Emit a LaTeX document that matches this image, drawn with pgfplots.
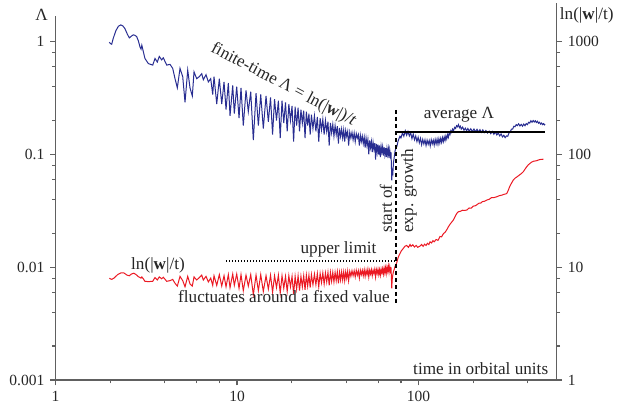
\documentclass[border=0pt]{standalone}
\usepackage{fontspec}
\setmainfont{Liberation Serif}
\usepackage{pgfplots}
\pgfplotsset{compat=1.18}
\definecolor{lblue}{RGB}{40,45,145}
\definecolor{lred}{RGB}{235,25,35}
\definecolor{axgray}{RGB}{96,96,96}
\begin{document}
\begin{tikzpicture}
\useasboundingbox (-33.3pt,-17.4pt) rectangle (346.5pt,228pt);
% right axis: ln(|w|/t)
\begin{axis}[scale only axis, width=300.72pt, height=226.0pt,
  xmode=log, ymode=log, xmin=1, xmax=577, ymin=1, ymax=2185,
  axis y line*=right, axis x line*=bottom, hide x axis,
  axis line style={axgray, line width=0.8pt, -},
  tick style={axgray, line width=0.7pt},
  major tick length=3.2pt, minor tick length=2pt,
  tick align=outside,
  tick label style={font=\fontsize{9.3}{10}\selectfont, text=black!85},
  clip=false,
  ytick={1,10,100,1000}, yticklabels={1,10,100,1000},
  minor ytick={2,4,6,8,20,40,60,80,200,400,600,800},
]
\addplot[lred, line width=0.6pt] coordinates {
(1.98,7.97) (2.04,7.8) (2.1,8.0) (2.2,8.6) (2.29,8.9) (2.38,8.9) (2.48,8.5) (2.55,8.4) (2.62,8.7) (2.70,8.85) (2.78,8.6) (2.86,8.25) (2.92,8.1) (2.96,8.0) (2.99,8.2) (3.045,7.9) (3.11,7.5) (3.246,7.45) (3.432,7.5) (3.534,8.1) (3.638,7.7) (3.731,8.2) (3.846,7.9) (3.925,8.15) (4.10,7.5) (4.275,7.6) (4.423,7.8) (4.555,7.2) (4.690,6.8) (4.853,8.3) (5.022,7.6) (5.171,6.7) (5.351,8.3) (5.508,7.1) (5.672,6.8) (5.796,8.2) (5.998,7.7) (6.200,8.1) (6.392,8.5) (6.523,7.7) (6.750,8.3) (6.950,7.4) (7.164,8.0) (7.348,6.9) (7.471,8.4) (7.732,6.9) (7.991,8.6) (8.238,6.8) (8.482,8.4) (8.700,6.7) (8.958,8.6) (9.152,6.6) (9.470,8.7) (9.663,6.9) (9.961,8.7) (10.26,6.5) (10.52,8.6) (10.83,6.2) (11.21,8.5) (11.54,6.8) (11.90,8.6) (12.30,5.7) (12.73,8.5) (13.11,6.2) (13.51,8.6) (13.96,6.1) (14.45,8.4) (14.88,6.4)
(15.3,8.5) (15.7,6.0) (16.1,8.4) (16.5,6.6) (16.9,8.5) (17.3,5.9) (17.7,8.4) (18.1,6.5) (18.5,8.3) (18.9,6.1) (19.3,8.4) (19.7,6.7) (20.1,8.3) (20.5,5.8) (20.9,8.3) (21.3,6.4) (21.7,8.4) (22.1,6.2) (22.5,8.3) (22.9,6.7) (23.3,8.4) (23.7,6.3) (24.1,8.5) (24.5,6.8) (24.9,8.5) (25.3,6.6) (25.7,8.6) (26.2,7.0) (26.7,8.7) (27.2,7.0) (27.7,8.8) (28.2,6.7) (28.7,8.8) (29.2,7.3) (29.7,8.9) (30.2,7.1) (30.7,8.9) (31.2,7.4) (31.7,9.0) (32.2,6.9) (32.7,9.0) (33.2,7.5) (33.7,9.0) (34.2,7.4) (34.7,9.0) (35.2,7.6) (35.7,9.1) (36.2,7.2) (36.7,9.0) (37.2,7.7) (37.7,9.1) (38.2,7.7) (38.7,9.1) (39.2,7.6) (39.7,9.1) (40.2,8.0) (40.7,9.2) (41.2,7.6)
(41.8,9.2) (42.4,8.3) (43,9.3) (43.6,8.4) (44.2,9.3) (44.8,8.2) (45.4,9.4) (46,8.5) (46.6,9.3) (47.2,8.0) (47.8,9.4) (48.4,8.6) (49,9.4) (49.6,8.4) (50.2,9.5) (50.8,8.3) (51.4,9.4) (52,8.6) (52.6,9.6) (53.2,8.2) (53.8,9.4) (54.4,8.7) (55,9.5) (55.6,8.4) (56.2,9.4) (56.8,8.8) (57.4,9.6) (58,8.2) (58.6,9.5) (59.2,8.8) (59.8,9.6) (60.4,8.6) (61,9.5) (61.6,8.5) (62.2,9.6) (62.8,8.9) (63.4,9.7) (64,8.7) (64.6,9.8) (65.2,8.9) (65.8,9.9) (66.4,8.8) (67,10.0) (67.6,9.2) (68.2,10.2) (68.8,9.0) (69.4,10.1) (70,9.3) (70.5,10.0) (70.9,8.0) (71.2,6.5) (71.6,7.8) (72.2,8.6) (72.8,9.2) (73.5,9.6) (74.3,10.2) (75.8,10.9)
(77,12.0) (78,12.7) (79.2,13.3) (80.5,14.0) (82.5,14.7) (84,15.3) (86,15.6) (88,15.0) (89.8,15.9) (91,15.3) (93,15.8) (95,15.1) (97,15.6) (99,15.0) (101.9,15.4) (104,15.9) (106,15.3) (108,16.0) (110,15.6) (112,16.3) (114,15.9) (115.7,16.8) (118,16.4) (120,17.2) (122,16.8) (125,17.6) (128,17.3) (131.3,18.7) (134,18.6) (137,19.8) (140,20.4) (142.9,21.4) (146,22.8) (149,24.0) (152,25.0) (155.5,26.2) (158,27.6) (160.5,29.0) (163,30.2) (165.6,31.0) (170,31.3) (175,32.0) (180,31.9) (184.4,32.1) (190,33.5) (195,33.4) (200,34.8) (205,35.0) (209.3,35.7) (215,36.9) (220,37.0) (225,38.2) (230,38.3) (237.6,39.4) (245,40.0) (252,41.3) (260,41.4) (269.7,42.1) (278,43.0) (287,43.5) (295,44.2) (300,44.5) (306.2,45.0) (312,48.0) (318,52.0) (325,55.5) (332.8,59.3) (340,61.5) (350,63.5) (360,65.8) (368,67.5) (377.7,70.2) (385,73.5) (395,78.0) (403,81.0) (411.4,83.3) (420,85.5) (430,87.0) (440,87.5) (447.9,88.0) (460,89.5) (470,90.2) (480,90.3) (487.5,91.0)
};
\addplot[black, line width=0.8pt, dash pattern=on 0.8pt off 1.0pt] coordinates {(8.7,11.35) (75.3,11.35)};
\end{axis}
% left axis: Lambda
\begin{axis}[scale only axis, width=300.72pt, height=218.4pt,
  xmode=log, ymode=log, xmin=1, xmax=577, ymin=0.001, ymax=1.69,
  axis x line*=bottom, axis y line*=left,
  axis line style={axgray, line width=0.8pt, -},
  tick style={axgray, line width=0.7pt},
  major tick length=3.2pt, minor tick length=2pt,
  tick align=outside,
  tick label style={font=\fontsize{9.3}{10}\selectfont, text=black!85},
  clip=false,
  xtick={1,10,100}, xticklabels={1,10,100},
  minor xtick={2,4,6,8,20,40,60,80,200,400},
  ytick={0.001,0.01,0.1,1}, yticklabels={0.001,0.01,0.1,1},
  minor ytick={0.002,0.004,0.006,0.008,0.02,0.04,0.06,0.08,0.2,0.4,0.6,0.8},
]
\addplot[lblue, line width=0.6pt] coordinates {
(1.98,0.99) (2.01,0.96) (2.04,0.95) (2.08,1.07) (2.15,1.25) (2.22,1.37) (2.29,1.41) (2.35,1.38) (2.41,1.31) (2.48,1.18) (2.55,1.08) (2.62,1.12) (2.68,1.15) (2.74,1.14) (2.80,1.11) (2.86,1.02) (2.92,0.90) (2.96,0.86) (2.99,0.93) (3.045,0.82) (3.11,0.71) (3.246,0.64) (3.432,0.62) (3.534,0.71) (3.638,0.66) (3.731,0.74) (3.846,0.69) (3.925,0.72) (4.10,0.62) (4.275,0.63) (4.423,0.58) (4.555,0.47) (4.690,0.39) (4.853,0.58) (5.022,0.49) (5.171,0.29) (5.351,0.56) (5.508,0.39) (5.672,0.33) (5.796,0.54) (5.998,0.47) (6.200,0.49) (6.392,0.52) (6.523,0.46) (6.750,0.51) (6.950,0.44) (7.164,0.47) (7.348,0.34) (7.471,0.49) (7.732,0.28) (7.991,0.47) (8.238,0.28) (8.482,0.44) (8.700,0.25) (8.958,0.43) (9.152,0.22) (9.470,0.41) (9.663,0.23) (9.961,0.40) (10.26,0.21) (10.52,0.39) (10.83,0.18) (11.21,0.37) (11.54,0.24) (11.90,0.36) (12.30,0.134) (12.73,0.35) (13.11,0.18) (13.51,0.34) (13.96,0.17) (14.45,0.33) (14.88,0.195)
(15.3,0.32) (15.7,0.15) (16.1,0.31) (16.5,0.2) (16.9,0.30) (17.3,0.14) (17.7,0.30) (18.1,0.19) (18.5,0.29) (18.9,0.16) (19.3,0.28) (19.7,0.2) (20.1,0.27) (20.5,0.13) (20.9,0.265) (21.3,0.18) (21.7,0.26) (22.1,0.16) (22.5,0.25) (22.9,0.19) (23.3,0.245) (23.7,0.14) (24.1,0.24) (24.5,0.18) (24.9,0.23) (25.3,0.15) (25.7,0.225) (26.2,0.17) (26.7,0.22) (27.2,0.16) (27.7,0.215) (28.2,0.13) (28.7,0.21) (29.2,0.165) (29.7,0.205) (30.2,0.15) (30.7,0.2) (31.2,0.16) (31.7,0.195) (32.2,0.12) (32.7,0.19) (33.2,0.155) (33.7,0.185) (34.2,0.145) (34.7,0.18) (35.2,0.15) (35.7,0.178) (36.2,0.125) (36.7,0.172) (37.2,0.145) (37.7,0.168) (38.2,0.14) (38.7,0.165) (39.2,0.13) (39.7,0.163) (40.2,0.145) (40.7,0.16) (41.2,0.12)
(41.8,0.158) (42.4,0.14) (43,0.157) (43.6,0.135) (44.2,0.155) (44.8,0.13) (45.4,0.153) (46,0.14) (46.6,0.15) (47.2,0.12) (47.8,0.148) (48.4,0.13) (49,0.145) (49.6,0.125) (50.2,0.142) (50.8,0.115) (51.4,0.14) (52,0.12) (52.6,0.136) (53.2,0.1) (53.8,0.133) (54.4,0.115) (55,0.13) (55.6,0.105) (56.2,0.128) (56.8,0.112) (57.4,0.126) (58,0.09) (58.6,0.124) (59.2,0.105) (59.8,0.122) (60.4,0.1) (61,0.12) (61.6,0.095) (62.2,0.118) (62.8,0.105) (63.4,0.117) (64,0.098) (64.6,0.116) (65.2,0.1) (65.8,0.114) (66.4,0.095) (67,0.113) (67.6,0.1) (68.2,0.112) (68.8,0.093) (69.4,0.11) (70,0.098) (70.5,0.105) (70.9,0.08) (71.2,0.059) (71.6,0.072) (72.2,0.068) (72.8,0.085) (73.5,0.095) (74.3,0.108) (75,0.113)
(76,0.118) (77,0.13) (78,0.138) (79,0.145) (80,0.14) (81.5,0.155) (83,0.145) (84.5,0.162) (86,0.148) (87.5,0.16) (89,0.146) (90.5,0.156) (92,0.138) (93.5,0.152) (95,0.135) (96.5,0.146) (98,0.13) (99.5,0.142) (101,0.127) (102.5,0.139) (104,0.122) (105.5,0.136) (107,0.124) (108.5,0.135) (110,0.12) (111.5,0.134) (113,0.123) (114.5,0.133) (116,0.119) (117.5,0.135) (119,0.124) (120.5,0.134) (122,0.121) (123.5,0.136) (125,0.124) (126.5,0.137) (128,0.123) (129.5,0.138) (131,0.126) (132.5,0.139) (134,0.128) (135.5,0.141) (137,0.13) (138.5,0.143) (140,0.133) (141.5,0.146) (143,0.137) (144.5,0.15) (146,0.142) (147.5,0.156) (149,0.15) (150.5,0.162) (152,0.157) (154,0.168) (156,0.163) (158,0.174) (160,0.17) (162,0.18) (164,0.176) (166,0.184) (168,0.173) (170,0.178) (172,0.168) (175,0.175) (178,0.164) (181,0.171) (184,0.162) (187,0.17) (190,0.161) (194,0.169) (198,0.16) (202,0.168) (206,0.159) (210,0.167) (214,0.158) (218,0.166) (222,0.157) (226,0.165) (230,0.156) (235,0.163) (240,0.155) (245,0.161) (250,0.153) (255,0.16) (260,0.151) (265,0.158) (270,0.149) (275,0.155) (280,0.146) (285,0.152) (290,0.143) (295,0.148) (300,0.141) (305,0.146) (310,0.145) (315,0.155) (320,0.158) (325,0.168) (330,0.168) (335,0.178) (340,0.176) (345,0.184) (350,0.18) (356,0.187) (362,0.179) (368,0.185) (374,0.178) (380,0.186) (386,0.18) (392,0.188) (398,0.184) (404,0.193) (410,0.19) (416,0.199) (422,0.193) (428,0.2) (434,0.194) (440,0.199) (446,0.192) (452,0.197) (458,0.189) (464,0.193) (470,0.186) (476,0.19) (482,0.184) (488,0.188) (494,0.183) (498,0.186)
};
\addplot[black, line width=0.9pt] coordinates {(75.3,0.158) (498,0.158)};
\addplot[black, line width=1.2pt, dash pattern=on 2.4pt off 1.8pt] coordinates {(75.3,0.248) (75.3,0.00483)};
\end{axis}
\begin{scope}[x=0.6pt,y=0.6pt, every node/.style={font=\fontsize{10.3}{12}\selectfont, text=black!85, inner sep=0pt}]
\node at (-13.8,365) {Λ};
\node at (531.2,365) {ln(|\textbf{w}|/t)};
\node at (425.2,11) {time in orbital units};
\node[rotate=-27.7] at (228,295) {finite-time Λ = ln(|\textbf{w}|)/\textit{t}};
\node at (403.5,265) {average Λ};
\node[rotate=90, anchor=west] at (330.5,147) {start of};
\node[rotate=90, anchor=west] at (353.5,147) {exp. growth};
\node at (283,131) {upper limit};
\node at (102.5,115) {ln(|\textbf{w}|/t)};
\node at (228.5,83) {fluctuates around a fixed value};
\end{scope}
\end{tikzpicture}
\end{document}
